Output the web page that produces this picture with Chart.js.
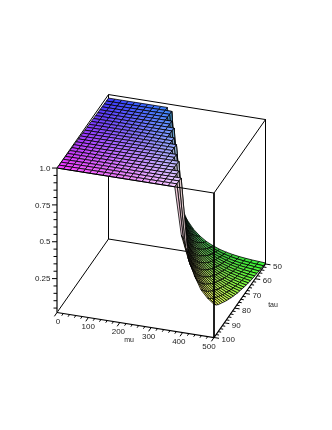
<!DOCTYPE html>
<html>
<head>
<meta charset="utf-8">
<title>mu tau surface</title>
<script src="https://cdn.jsdelivr.net/npm/chart.js@4"></script>
<style>
  html, body { margin: 0; padding: 0; background: #fff; }
  canvas { display: block; }
</style>
</head>
<body>
<canvas id="kaavio" width="332" height="430"></canvas>
<script>
// grid of the surface, 25 x 25 samples
const muValues = [0, 20.83, 41.67, 62.5, 83.33, 104.17, 125, 145.83, 166.67, 187.5, 208.33, 229.17, 250,
  270.83, 291.67, 312.5, 333.33, 354.17, 375, 395.83, 416.67, 437.5, 458.33, 479.17, 500];
const tauValues = [50, 52.08, 54.17, 56.25, 58.33, 60.42, 62.5, 64.58, 66.67, 68.75, 70.83, 72.92, 75,
  77.08, 79.17, 81.25, 83.33, 85.42, 87.5, 89.58, 91.67, 93.75, 95.83, 97.92, 100];

// height of the flat part per tau row and how many mu samples it covers
const plateauHeight = [.976, .977, .978, .979, .98, .981, .982, .983, .984, .985, .986, .987, .988,
  .989, .99, .991, .992, .993, .994, .995, .996, .997, .998, .999, 1];
const plateauCount = [10, 11, 11, 11, 12, 12, 13, 13, 13, 14, 14, 15, 15, 15, 16, 16, 17, 17, 17, 18, 18, 19, 19, 19, 19];

// heights after the cliff, one row per tau
const decayHeight = [
  [.525, .332, .236, .178, .138, .108, .087, .07, .058, .049, .042, .037, .033, .03, .027],
  [.397, .275, .205, .158, .124, .099, .081, .066, .055, .047, .041, .036, .032, .029],
  [.484, .322, .236, .182, .143, .114, .093, .076, .063, .053, .045, .041, .036, .032],
  [.598, .38, .272, .207, .163, .13, .105, .087, .072, .06, .051, .045, .04, .035],
  [.452, .314, .236, .185, .147, .12, .098, .082, .069, .058, .05, .044, .039],
  [.544, .365, .268, .209, .167, .135, .11, .092, .077, .065, .056, .048, .043],
  [.429, .307, .236, .188, .152, .124, .103, .087, .073, .063, .054, .047],
  [.506, .353, .265, .211, .17, .14, .115, .096, .082, .07, .06, .052],
  [.608, .409, .302, .236, .191, .155, .129, .108, .092, .078, .067, .058],
  [.472, .343, .264, .212, .174, .144, .12, .101, .087, .075, .064],
  [.559, .393, .297, .236, .192, .159, .134, .112, .096, .082, .071],
  [.452, .335, .263, .213, .177, .147, .124, .106, .091, .079],
  [.525, .38, .293, .236, .194, .163, .138, .117, .1, .087],
  [.618, .433, .328, .261, .214, .179, .151, .128, .11, .094],
  [.494, .369, .291, .236, .196, .165, .142, .121, .104],
  [.572, .416, .322, .26, .215, .182, .154, .133, .114],
  [.473, .359, .287, .236, .198, .167, .144, .124],
  [.539, .402, .317, .258, .216, .184, .157, .136],
  [.623, .452, .351, .284, .236, .2, .172, .147],
  [.51, .39, .312, .256, .217, .186, .16],
  [.581, .436, .343, .281, .236, .201, .174],
  [.488, .38, .307, .256, .218, .188],
  [.549, .422, .336, .279, .236, .202],
  [.628, .469, .371, .304, .255, .22],
  [.68, .535, .42, .33, .28, .245]
];

// axes
const muTicks = [0, 100, 200, 300, 400, 500];
const muMinor = [20, 40, 60, 80, 120, 140, 160, 180, 220, 240, 260, 280, 320, 340, 360, 380, 420, 440, 460, 480];
const tauTicks = [50, 60, 70, 80, 90, 100];
const tauMinor = [52, 54, 56, 58, 62, 64, 66, 68, 72, 74, 76, 78, 82, 84, 86, 88, 92, 94, 96, 98];
const zTicks = [0.25, 0.5, 0.75, 1];
const zTickLabels = ["0.25", "0.5", "0.75", "1.0"];
const zMinor = [.05, .1, .15, .2, .3, .35, .4, .45, .55, .6, .65, .7, .8, .85, .9, .95];

const zMin = 0.02;
const zMax = 1;

// fixed view of the box, turns (mu, tau, z) into scale values
function kohtaX(mu, tau) {
  return 57 + mu / 500 * 157 + (100 - tau) / 50 * 51.5;
}
function kohtaY(mu, tau, z) {
  return 312.5 + mu / 500 * 25 - (100 - tau) / 50 * 73.5 - (z - zMin) * 147.4;
}
function piste(mu, tau, z) {
  return { x: kohtaX(mu, tau), y: kohtaY(mu, tau, z) };
}

function korkeus(i, j) {
  if (j < plateauCount[i]) return plateauHeight[i];
  return decayHeight[i][j - plateauCount[i]];
}

// colour follows the coordinates: red = tau, green = mu, blue = height
function solunVari(mu, tau, z) {
  let r = Math.round(55 + 190 * (tau - 50) / 50);
  let g = Math.round(55 + 195 * mu / 500);
  let b = Math.round(50 + 205 * z);
  return `rgb(${r},${g},${b})`;
}

function viiva(pisteet, leveys, vari) {
  return {
    data: pisteet,
    showLine: true,
    fill: false,
    borderColor: vari || "#000",
    borderWidth: leveys || 1,
    pointRadius: 0,
    tension: 0
  };
}

// box edges behind the surface
let takana = [
  viiva([piste(0, 100, zMin), piste(0, 50, zMin), piste(500, 50, zMin)]),
  viiva([piste(0, 50, zMin), piste(0, 50, zMax)]),
  viiva([piste(0, 100, zMax), piste(0, 50, zMax), piste(500, 50, zMax)])
];

// surface cells, far ones first
let solut = [];
for (let i = 0; i < tauValues.length - 1; i++) {
  for (let j = 0; j < muValues.length - 1; j++) {
    let kulmat = [[i, j], [i, j + 1], [i + 1, j + 1], [i + 1, j], [i, j]];
    let zKeski = (korkeus(i, j) + korkeus(i, j + 1) + korkeus(i + 1, j + 1) + korkeus(i + 1, j)) / 4;
    solut.push({
      data: kulmat.map(k => piste(muValues[k[1]], tauValues[k[0]], korkeus(k[0], k[1]))),
      showLine: true,
      fill: "shape",
      backgroundColor: solunVari((muValues[j] + muValues[j + 1]) / 2, (tauValues[i] + tauValues[i + 1]) / 2, zKeski),
      borderColor: "#000",
      borderWidth: 0.8,
      borderJoinStyle: "round",
      pointRadius: 0,
      tension: 0
    });
  }
}

// box edges and axes in front
let edessa = [
  viiva([piste(0, 100, zMax), piste(500, 100, zMax), piste(500, 50, zMax), piste(500, 50, zMin)]),
  viiva([piste(500, 100, zMax), piste(500, 100, zMin)]),
  viiva([piste(0, 100, zMin), piste(0, 100, zMax)], 1.6, "#444"),
  viiva([piste(0, 100, zMin), piste(500, 100, zMin), piste(500, 50, zMin)], 1.2)
];

// tick marks: x and y offsets are scale units
function merkki(p, dx, dy) {
  return viiva([p, { x: p.x + dx, y: p.y + dy }]);
}
muTicks.forEach(m => edessa.push(merkki(piste(m, 100, zMin), -2.6, 3.8)));
muMinor.forEach(m => edessa.push(merkki(piste(m, 100, zMin), -1.5, 2.2)));
tauTicks.forEach(t => edessa.push(merkki(piste(500, t, zMin), 5, 0.8)));
tauMinor.forEach(t => edessa.push(merkki(piste(500, t, zMin), 3, 0.5)));
zTicks.forEach(z => edessa.push(merkki(piste(0, 100, z), -5, 0)));
zMinor.forEach(z => edessa.push(merkki(piste(0, 100, z), -3.5, 0)));

// first dataset is drawn last, so the order is turned around
let kaikki = takana.concat(solut, edessa).reverse();

// axis labels are drawn last through the same scales
const tekstit = {
  id: "tekstit",
  afterDraw(chart) {
    let ctx = chart.ctx;
    let sx = chart.scales.x;
    let sy = chart.scales.y;
    ctx.save();
    ctx.font = "8px 'Liberation Sans', Arial, sans-serif";
    ctx.fillStyle = "#222";
    ctx.textBaseline = "middle";

    ctx.textAlign = "center";
    muTicks.forEach(m => {
      let p = piste(m, 100, zMin);
      ctx.fillText(String(m), sx.getPixelForValue(p.x + 1 - 6 * m / 500), sy.getPixelForValue(p.y + 9.5));
    });
    ctx.textAlign = "left";
    tauTicks.forEach(t => {
      let p = piste(500, t, zMin);
      ctx.fillText(String(t), sx.getPixelForValue(p.x + 7.5), sy.getPixelForValue(p.y + 2.5));
    });
    ctx.textAlign = "right";
    zTicks.forEach((z, k) => {
      let p = piste(0, 100, z);
      ctx.fillText(zTickLabels[k], sx.getPixelForValue(p.x - 6.5), sy.getPixelForValue(p.y + 0.5));
    });

    ctx.textAlign = "center";
    ctx.font = "7px 'Liberation Sans', Arial, sans-serif";
    ctx.fillText("mu", sx.getPixelForValue(129), sy.getPixelForValue(340.5));
    ctx.fillText("tau", sx.getPixelForValue(273), sy.getPixelForValue(305));
    ctx.restore();
  }
};

new Chart(document.querySelector("#kaavio").getContext("2d"), {
  type: "scatter",
  data: { datasets: kaikki },
  options: {
    responsive: false,
    animation: false,
    events: [],
    layout: { padding: 0 },
    plugins: { legend: { display: false }, tooltip: { enabled: false } },
    scales: {
      x: { type: "linear", display: false, min: 0, max: 332 },
      y: { type: "linear", display: false, min: 0, max: 430, reverse: true }
    }
  },
  plugins: [tekstit]
});
</script>
</body>
</html>
